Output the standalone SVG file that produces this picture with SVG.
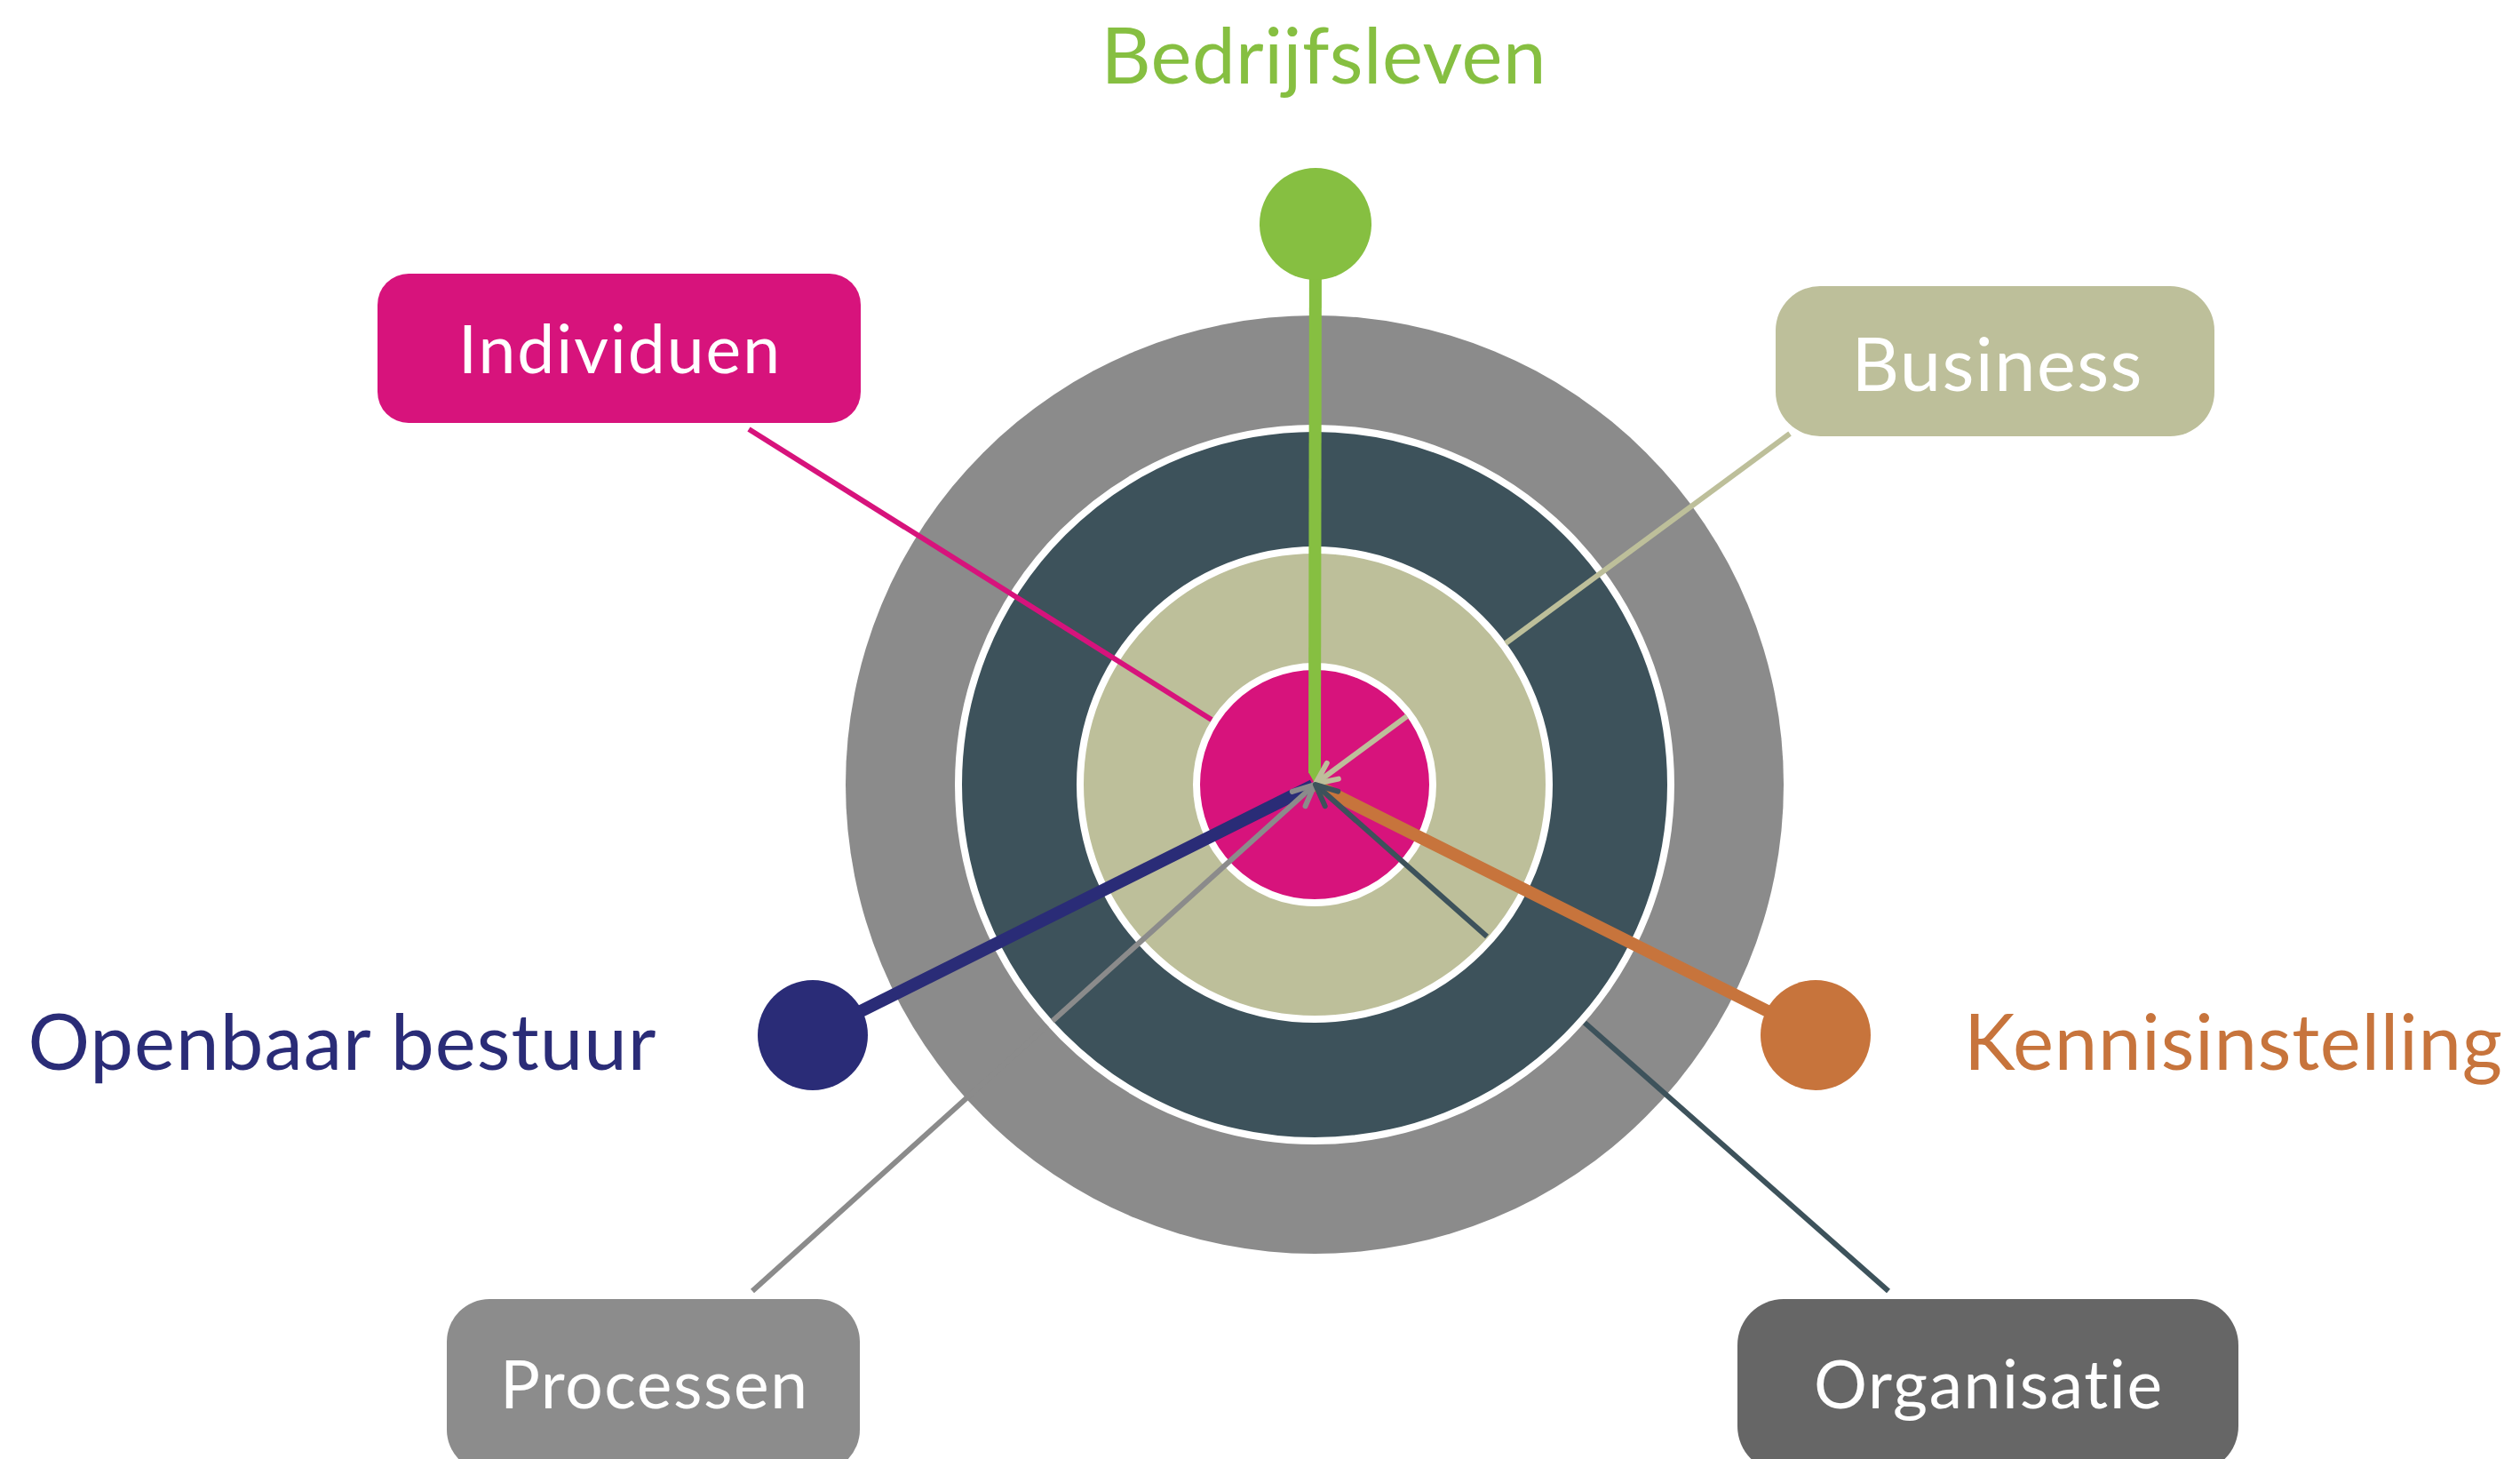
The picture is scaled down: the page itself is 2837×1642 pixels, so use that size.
<svg xmlns="http://www.w3.org/2000/svg" width="2837" height="1642" viewBox="0 0 2837 1642">
  <style>
    .lbl { font-family: Lato, "Open Sans", "Liberation Sans", sans-serif; text-anchor: middle; font-variant-ligatures: none; font-feature-settings: "liga" 0, "clig" 0, "dlig" 0; }
    .box-text { fill: #FFFFFF; font-size: 75px; }
    .outer-text { font-size: 87px; }
    .ring { stroke: #FFFFFF; stroke-width: 8; }
    .thin { fill: none; stroke-width: 6; stroke-linecap: butt; }
    .thick { fill: none; stroke-width: 14; stroke-linecap: butt; }
  </style>
  <defs>
    <marker id="arrKhaki" markerUnits="userSpaceOnUse" orient="auto" viewBox="-30 -30 60 60" markerWidth="60" markerHeight="60" refX="0" refY="0">
      <path d="M-24,-11 L0,0 L-24,11" fill="none" stroke="#BDBF9A" stroke-width="6" stroke-linecap="round" stroke-linejoin="round"/>
    </marker>
    <marker id="arrGray" markerUnits="userSpaceOnUse" orient="auto" viewBox="-30 -30 60 60" markerWidth="60" markerHeight="60" refX="0" refY="0">
      <path d="M-24,-11 L0,0 L-24,11" fill="none" stroke="#8B8B8B" stroke-width="6" stroke-linecap="round" stroke-linejoin="round"/>
    </marker>
    <marker id="arrDark" markerUnits="userSpaceOnUse" orient="auto" viewBox="-30 -30 60 60" markerWidth="60" markerHeight="60" refX="0" refY="0">
      <path d="M-24,-11 L0,0 L-24,11" fill="none" stroke="#3D525B" stroke-width="6" stroke-linecap="round" stroke-linejoin="round"/>
    </marker>
  </defs>

  <rect width="2837" height="1642" fill="#FFFFFF"/>

  <g id="rings">
    <circle id="ring-outer" cx="1480" cy="883" r="528" fill="#8B8B8B"/>
    <circle id="ring-dark" class="ring" cx="1480" cy="883" r="401" fill="#3D525B"/>
    <circle id="ring-khaki" class="ring" cx="1480" cy="883" r="264" fill="#BDBF9A"/>
    <circle id="ring-core" class="ring" cx="1480" cy="883" r="133" fill="#D7137C"/>
  </g>

  <g id="connectors">
    <line class="thick" x1="1481" y1="252" x2="1480" y2="870" stroke="#86BF41"/>
    <polygon points="1473,869 1487,869 1481,883" fill="#86BF41"/>
    <line class="thick" x1="915" y1="1165" x2="1478" y2="884" stroke="#2A2C77"/>
    <line class="thick" x1="2044" y1="1165" x2="1482" y2="884" stroke="#C7743C"/>
    <line class="thin" x1="843" y1="483" x2="1364" y2="810" stroke="#D7137C"/>
    <line class="thin" x1="2015" y1="488" x2="1695" y2="724" stroke="#BDBF9A"/>
    <line class="thin" x1="1584" y1="806" x2="1481" y2="882" stroke="#BDBF9A" marker-end="url(#arrKhaki)"/>
    <line class="thin" x1="847" y1="1453" x2="1179" y2="1154" stroke="#8B8B8B"/>
    <line class="thin" x1="1185" y1="1149" x2="1480" y2="883" stroke="#8B8B8B" marker-end="url(#arrGray)"/>
    <line class="thin" x1="2126" y1="1453" x2="1784" y2="1151" stroke="#3D525B"/>
    <line class="thin" x1="1674" y1="1054" x2="1481" y2="883" stroke="#3D525B" marker-end="url(#arrDark)"/>
  </g>

  <g id="node-bedrijfsleven">
    <circle cx="1481" cy="252" r="63" fill="#86BF41"/>
    <text class="lbl outer-text" x="1490" y="94" fill="#86BF41" textLength="501">Bedrijfsleven</text>
  </g>

  <g id="node-openbaar-bestuur">
    <circle cx="915" cy="1165" r="62" fill="#2A2C77"/>
    <text class="lbl outer-text" x="385" y="1204" fill="#2A2C77" textLength="707">Openbaar bestuur</text>
  </g>

  <g id="node-kennisinstelling">
    <circle cx="2044" cy="1165" r="62" fill="#C7743C"/>
    <text class="lbl outer-text" x="2514" y="1204" fill="#C7743C" textLength="606">Kennisinstelling</text>
  </g>

  <g id="node-individuen">
    <rect x="425" y="308" width="544" height="168" rx="35" ry="35" fill="#D7137C"/>
    <text class="lbl box-text" x="697" y="420" textLength="362">Individuen</text>
  </g>

  <g id="node-business">
    <rect x="1999" y="322" width="494" height="169" rx="50" ry="50" fill="#BDBF9A"/>
    <text class="lbl box-text" x="2248" y="440" style="font-size:83px" textLength="327">Business</text>
  </g>

  <g id="node-processen">
    <rect x="503" y="1462" width="465" height="195" rx="48" ry="48" fill="#8C8C8C"/>
    <text class="lbl box-text" x="736" y="1585" textLength="346">Processen</text>
  </g>

  <g id="node-organisatie">
    <rect x="1956" y="1462" width="564" height="195" rx="52" ry="52" fill="#666666"/>
    <text class="lbl box-text" x="2238" y="1585" textLength="392">Organisatie</text>
  </g>
</svg>
